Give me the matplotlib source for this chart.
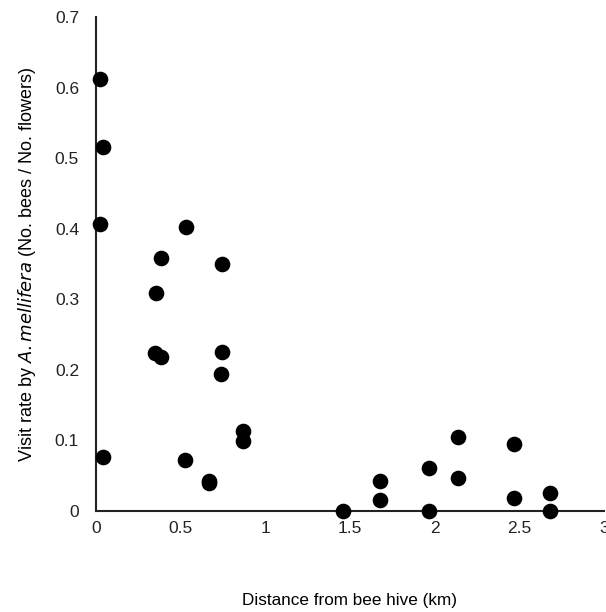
import matplotlib
matplotlib.use('Agg')
import matplotlib.pyplot as plt

plt.rcParams['font.family'] = ['Liberation Sans', 'DejaVu Sans']

distance = [0.024, 0.04, 0.024, 0.04, 0.355, 0.385, 0.53, 0.745, 0.35, 0.385,
            0.745, 0.74, 0.87, 0.87, 0.527, 0.668, 0.668, 1.46, 1.68, 1.68,
            1.965, 1.965, 2.136, 2.136, 2.467, 2.467, 2.68, 2.68]
visit_rate = [0.612, 0.516, 0.407, 0.077, 0.309, 0.358, 0.402, 0.35, 0.224, 0.218,
              0.225, 0.194, 0.113, 0.099, 0.072, 0.043, 0.04, 0.0, 0.043, 0.016,
              0.061, 0.0, 0.105, 0.047, 0.095, 0.018, 0.025, 0.0]
xticks = [0, 0.5, 1, 1.5, 2, 2.5, 3]
xtick_labels = ['0', '0.5', '1', '1.5', '2', '2.5', '3']
yticks = [0, 0.1, 0.2, 0.3, 0.4, 0.5, 0.6, 0.7]
ytick_labels = ['0', '0.1', '0.2', '0.3', '0.4', '0.5', '0.6', '0.7']

fig = plt.figure(figsize=(6.06, 6.12), dpi=100)
ax = fig.add_axes([0.158, 0.165, 0.839, 0.807])

ax.scatter(distance, visit_rate, s=105, color='black', zorder=3, clip_on=False)

ax.set_xlim(0, 3)
ax.set_ylim(0, 0.7)
ax.set_xticks(xticks)
ax.set_xticklabels(xtick_labels)
ax.set_yticks(yticks)
ax.set_yticklabels(ytick_labels)
ax.tick_params(length=0, labelsize=12.5, colors='#222222')
ax.tick_params(axis='x', pad=7)
ax.tick_params(axis='y', pad=12)

for side in ['top', 'right']:
    ax.spines[side].set_visible(False)
for side in ['left', 'bottom']:
    ax.spines[side].set_linewidth(1.5)
    ax.spines[side].set_color('#222222')

ax.set_xlabel('Distance from bee hive (km)', fontsize=12.3)
ax.xaxis.set_label_coords(0.5, -0.167)
ax.set_ylabel('Visit rate by $\\it{A. mellifera}$ (No. bees / No. flowers)',
              fontsize=13, labelpad=12)

fig.savefig('out.png', dpi=100)
